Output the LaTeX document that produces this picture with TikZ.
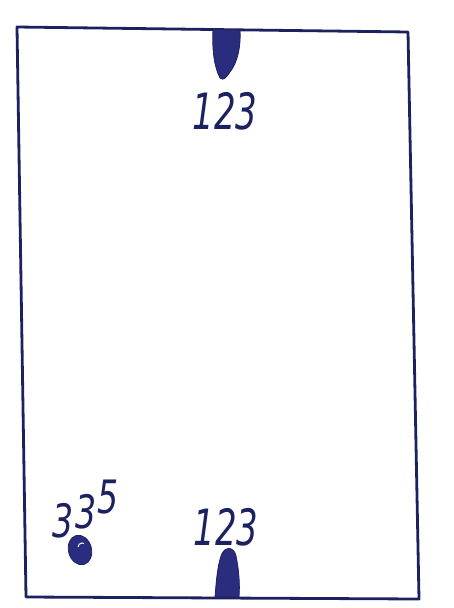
\documentclass[tikz,border=0pt]{standalone}
\usepackage{fontspec}
\setmainfont{DejaVu Sans}
\usetikzlibrary{shapes.geometric}
\definecolor{ink}{HTML}{1C2160}
\definecolor{blob}{HTML}{2A2C7E}
\tikzset{
  frame/.style={draw=ink, line width=2.8pt, line join=round, line cap=round},
  marker/.style={fill=blob, draw=ink, line width=0.8pt},
  label/.style={text=ink, inner sep=0pt, xscale=0.68, font=\fontsize{50}{50}\selectfont\itshape},
  digit/.style={text=ink, inner sep=0pt, xscale=0.72, font=\fontsize{46}{46}\selectfont\itshape},
}
\begin{document}
\begin{tikzpicture}[x=1pt, y=-1pt]
\useasboundingbox (0,0) rectangle (453,608);
% frame corners
\coordinate (tl) at (17,27);
\coordinate (tr) at (408,32);
\coordinate (br) at (419,599);
\coordinate (bl) at (26,597);
\draw[frame] (tl) -- (tr) -- (br) -- (bl) -- cycle;
% top marker
\draw[marker] (213,29) .. controls (212,50) and (214,66) .. (220,78)
  .. controls (223,81) and (226,78) .. (230,72)
  .. controls (238,62) and (241,45) .. (240,30) -- cycle;
% bottom marker
\draw[marker] (215,597) .. controls (216,585) and (217,568) .. (221,556)
  .. controls (224,546) and (234,546) .. (236,556)
  .. controls (239,570) and (240,585) .. (239,597) -- cycle;
% labels
\node[label] (t123) at (225,111) {123};
\node[label] (b123) at (226,527) {123};
\node[digit] (d3a) at (63,521) {3};
\node[digit] (d3b) at (86,512) {3};
\node[digit] (d5) at (108,497) {5};
% small round mark
\node[draw=ink, fill=blob, ellipse, minimum width=23pt, minimum height=30pt, inner sep=0pt, rotate=15, line width=0.8pt] (dot) at (80,550) {};
\draw[white, line width=1pt] (dot.center) ++(-2,-3) arc (180:300:4);
\end{tikzpicture}
\end{document}
